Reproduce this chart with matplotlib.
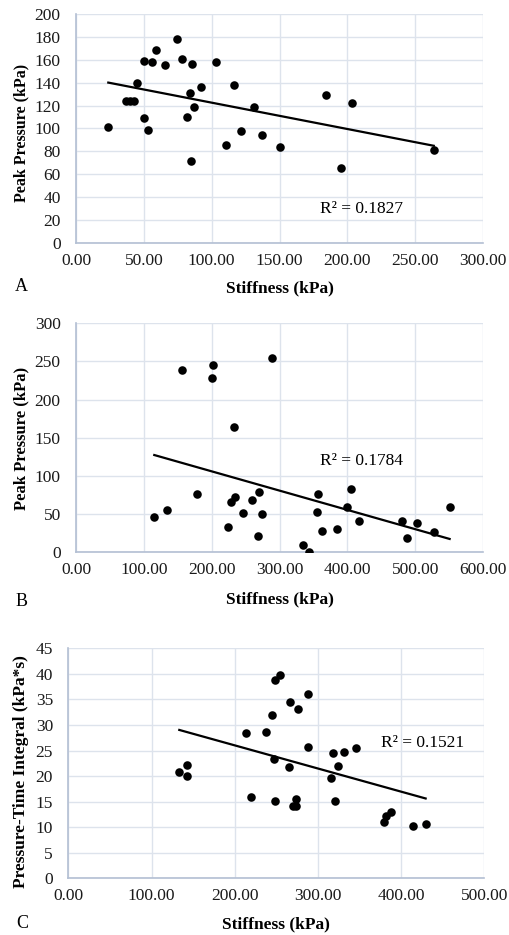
import numpy as np
import matplotlib
matplotlib.use("Agg")
import matplotlib.pyplot as plt
from matplotlib.ticker import FormatStrFormatter, MultipleLocator

plt.rcParams['font.family'] = ['Liberation Serif', 'DejaVu Serif']

# Panel A: Stiffness vs Peak Pressure
a_x = [23.8, 37, 40, 43, 44.7, 50.1, 56.2, 50.1, 52.8, 58.9, 65.6, 74.4, 78.3, 85.2,
       84.2, 86.9, 82.0, 84.7, 92.1, 103.1, 110.5, 116.1, 121.3, 130.9, 137.2,
       150.7, 184.4, 195.2, 203.8, 263.7]
a_y = [101.5, 124, 124, 124, 139.4, 158.9, 158, 109.6, 98.5, 168.8, 155.1, 178.1,
       160.3, 156.3, 130.6, 118.4, 110.2, 72.0, 136.4, 158, 86.0, 138.2, 97.7,
       118.4, 94.2, 84.0, 129.4, 65.6, 121.9, 81.0]
a_r2 = "R² = 0.1827"

# Panel B: Stiffness vs Peak Pressure
b_x = [115.4, 134.0, 156.1, 177.7, 202.3, 200.8, 232.7, 224.4, 228.3, 234.7, 246.0,
       259.7, 270.0, 269.0, 274.4, 289.2, 334.3, 344.1, 356.9, 355.9, 363.3, 385.4,
       399.1, 405.0, 417.8, 481.1, 488.0, 502.7, 527.2, 550.8]
b_y = [45.5, 55.1, 239.2, 76.5, 244.9, 227.8, 164.4, 33.2, 65.6, 72.1, 51.6, 68.2,
       78.3, 20.6, 49.8, 254.5, 9.2, 0.0, 75.6, 52.0, 27.1, 30.6, 59.0, 82.2, 41.1,
       41.1, 18.8, 38.5, 26.7, 59.0]
b_r2 = "R² = 0.1784"

# Panel C: Stiffness vs Pressure-Time Integral
c_x = [133.4, 142.2, 142.2, 213.1, 219.2, 237.6, 244.4, 248.0, 254.4, 247.2, 248.8,
       265.2, 266.8, 276.4, 270.4, 273.2, 273.2, 287.7, 287.7, 315.7, 317.7, 320.1,
       324.1, 330.9, 345.8, 379.0, 382.2, 387.8, 414.7, 429.5]
c_y = [20.8, 22.1, 20.1, 28.4, 15.9, 28.6, 32.0, 38.8, 39.8, 23.3, 15.1, 21.7, 34.4,
       33.1, 14.2, 14.2, 15.6, 36.0, 25.7, 19.6, 24.5, 15.1, 21.9, 24.8, 25.5, 11.1,
       12.1, 12.9, 10.2, 10.6]
c_r2 = "R² = 0.1521"

W, H = 509, 935
fig = plt.figure(figsize=(W / 100, H / 100), dpi=100)

GRID = '#dde3ec'
SPINE = '#b3bfd3'


def panel(rect_px, xs, ys, xmax, xstep, ymax, ystep, ylabel, r2, r2pos,
          letter, letter_px, xlab_y, ylab_x, ylab_y, ylab_fs):
    l, t, r, b = rect_px
    ax = fig.add_axes([l / W, 1 - b / H, (r - l) / W, (b - t) / H])
    ax.set_xlim(0, xmax)
    ax.set_ylim(0, ymax)
    ax.xaxis.set_major_locator(MultipleLocator(xstep))
    ax.yaxis.set_major_locator(MultipleLocator(ystep))
    ax.xaxis.set_major_formatter(FormatStrFormatter('%.2f'))
    ax.grid(True, color=GRID, lw=1.0)
    ax.set_axisbelow(True)
    for s in ['top', 'right']:
        ax.spines[s].set_visible(False)
    for s in ['left', 'bottom']:
        ax.spines[s].set_color(SPINE)
        ax.spines[s].set_linewidth(1.2)
    ax.tick_params(length=0, labelsize=12.5, colors='#1a1a1a')
    ax.tick_params(axis='y', pad=11)
    ax.tick_params(axis='x', pad=7)
    ax.scatter(xs, ys, s=38, color='black', zorder=3, linewidths=0)
    xa = np.array(xs)
    ya = np.array(ys)
    k, c0 = np.polyfit(xa, ya, 1)
    xl = np.array([xa.min(), xa.max()])
    ax.plot(xl, k * xl + c0, color='black', lw=1.6, zorder=4)
    ax.text(r2pos[0], r2pos[1], r2, fontsize=12.5, va='center', ha='left')
    ax.set_xlabel('Stiffness (kPa)', fontsize=12.5, fontweight='bold')
    ax.xaxis.label.set_va('center')
    ax.xaxis.set_label_coords(0.5, -(xlab_y - b) / (b - t))
    ax.set_ylabel(ylabel, fontsize=ylab_fs, fontweight='bold')
    ax.yaxis.label.set_va('center')
    ax.yaxis.set_label_coords((ylab_x - l) / (r - l), (b - ylab_y) / (b - t))
    fig.text(letter_px[0] / W, 1 - letter_px[1] / H, letter, fontsize=13,
             ha='center', va='center')
    return ax


panel((76, 14, 483, 243), a_x, a_y, 300, 50, 200, 20, 'Peak Pressure (kPa)',
      a_r2, (180, 29.4), 'A', (21, 287), 288, 21, 133, 11.5)
panel((76, 323.3, 483, 552), b_x, b_y, 600, 100, 300, 50, 'Peak Pressure (kPa)',
      b_r2, (359, 119.8), 'B', (22, 602), 599, 21, 438, 12)
panel((68.3, 648.3, 484.3, 878.3), c_x, c_y, 500, 100, 45, 5,
      'Pressure-Time Integral (kPa*s)', c_r2, (376, 26.4), 'C', (22, 923), 924,
      21.5, 771.7, 12.5)

fig.savefig('out.png', dpi=100, facecolor='white')
